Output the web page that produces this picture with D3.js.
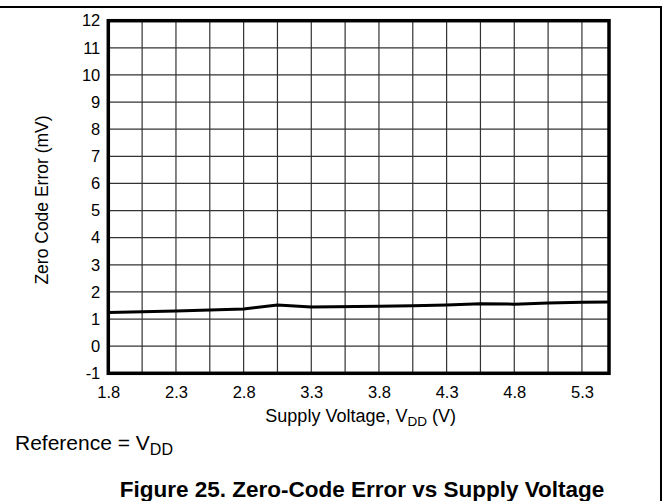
<!DOCTYPE html>
<html>
<head>
<meta charset="utf-8">
<script src="https://cdn.jsdelivr.net/npm/d3@7"></script>
<style>
  html, body { margin: 0; padding: 0; background: #fff; }
  svg { display: block; font-family: "Liberation Sans", Arial, sans-serif; }
</style>
</head>
<body>
<svg id="chart" width="669" height="501"></svg>
<script>
// ---- data ----
const supplyVoltage = [1.8, 2.3, 2.8, 3.05, 3.3, 3.8, 4.05, 4.3, 4.55, 4.8, 5.05, 5.3, 5.5];
const zeroCodeError = [1.24, 1.30, 1.37, 1.52, 1.44, 1.47, 1.49, 1.52, 1.56, 1.55, 1.59, 1.62, 1.63];
const xTickLabels = ["1.8", "2.3", "2.8", "3.3", "3.8", "4.3", "4.8", "5.3"];
const yTickLabels = ["-1", "0", "1", "2", "3", "4", "5", "6", "7", "8", "9", "10", "11", "12"];
const xGridValues = [1.8, 2.05, 2.3, 2.55, 2.8, 3.05, 3.3, 3.55, 3.8, 4.05, 4.3, 4.55, 4.8, 5.05, 5.3];

const svg = d3.select("#chart");
const W = 669, H = 501;
const plot = { left: 108.3, right: 609, top: 20.7, bottom: 373.3 };

const x = d3.scaleLinear().domain([1.8, 5.5]).range([plot.left, plot.right]);
const y = d3.scaleLinear().domain([-1, 12]).range([plot.bottom, plot.top]);

// outer frame (top and right lines)
svg.append("line").attr("x1", 0).attr("x2", 661).attr("y1", 7).attr("y2", 7)
  .attr("stroke", "#000").attr("stroke-width", 2);
svg.append("line").attr("x1", 661).attr("x2", 661).attr("y1", 6).attr("y2", H)
  .attr("stroke", "#000").attr("stroke-width", 2);

// grid
const grid = svg.append("g");
grid.selectAll("line.v").data(xGridValues).join("line")
  .attr("x1", d => x(d)).attr("x2", d => x(d))
  .attr("y1", plot.top).attr("y2", plot.bottom)
  .attr("stroke", "#333").attr("stroke-width", 1.2);
grid.selectAll("line.h").data(yTickLabels.map(Number)).join("line")
  .attr("x1", plot.left).attr("x2", plot.right)
  .attr("y1", d => y(d)).attr("y2", d => y(d))
  .attr("stroke", "#333").attr("stroke-width", 1.2);

// data line
const line = d3.line().x((d, i) => x(supplyVoltage[i])).y(d => y(d));
svg.append("path").datum(zeroCodeError)
  .attr("d", line)
  .attr("fill", "none").attr("stroke", "#000").attr("stroke-width", 3)
  .attr("stroke-linejoin", "round");

// plot border
svg.append("rect")
  .attr("x", plot.left).attr("y", plot.top)
  .attr("width", plot.right - plot.left).attr("height", plot.bottom - plot.top)
  .attr("fill", "none").attr("stroke", "#000").attr("stroke-width", 3.5);

// y axis
const yAxis = d3.axisLeft(y).tickValues(yTickLabels.map(Number))
  .tickFormat((d, i) => yTickLabels[i]).tickSize(0).tickPadding(8);
const gy = svg.append("g").attr("transform", `translate(${plot.left},0)`).call(yAxis);
gy.select(".domain").remove();
gy.selectAll("text").attr("font-size", 16.5).attr("font-family", "Liberation Sans, Arial, sans-serif").attr("fill", "#000");

// x axis
const xAxis = d3.axisBottom(x).tickValues(xTickLabels.map(Number))
  .tickFormat((d, i) => xTickLabels[i]).tickSize(0).tickPadding(13);
const gx = svg.append("g").attr("transform", `translate(0,${plot.bottom})`).call(xAxis);
gx.select(".domain").remove();
gx.selectAll("text").attr("font-size", 16.5).attr("font-family", "Liberation Sans, Arial, sans-serif").attr("fill", "#000");

// x axis title
const xt = svg.append("text").attr("x", (plot.left + plot.right) / 2 + 2).attr("y", 422)
  .attr("text-anchor", "middle").attr("font-size", 18).attr("fill", "#000");
xt.append("tspan").text("Supply Voltage, V");
xt.append("tspan").text("DD").attr("font-size", 13.5).attr("dy", 4);
xt.append("tspan").text(" (V)").attr("dy", -4);

// y axis title
svg.append("text")
  .attr("transform", `translate(48,${(plot.top + plot.bottom) / 2 + 3}) rotate(-90)`)
  .attr("text-anchor", "middle").attr("font-size", 17.5).attr("fill", "#000")
  .text("Zero Code Error (mV)");

// reference note
const rt = svg.append("text").attr("x", 15).attr("y", 450)
  .attr("font-size", 21).attr("fill", "#000");
rt.append("tspan").text("Reference = V");
rt.append("tspan").text("DD").attr("font-size", 16).attr("dy", 5);

// figure caption
svg.append("text").attr("x", 362).attr("y", 497)
  .attr("text-anchor", "middle").attr("font-size", 22.5).attr("font-weight", "bold")
  .attr("fill", "#000")
  .text("Figure 25. Zero-Code Error vs Supply Voltage");
</script>
</body>
</html>
